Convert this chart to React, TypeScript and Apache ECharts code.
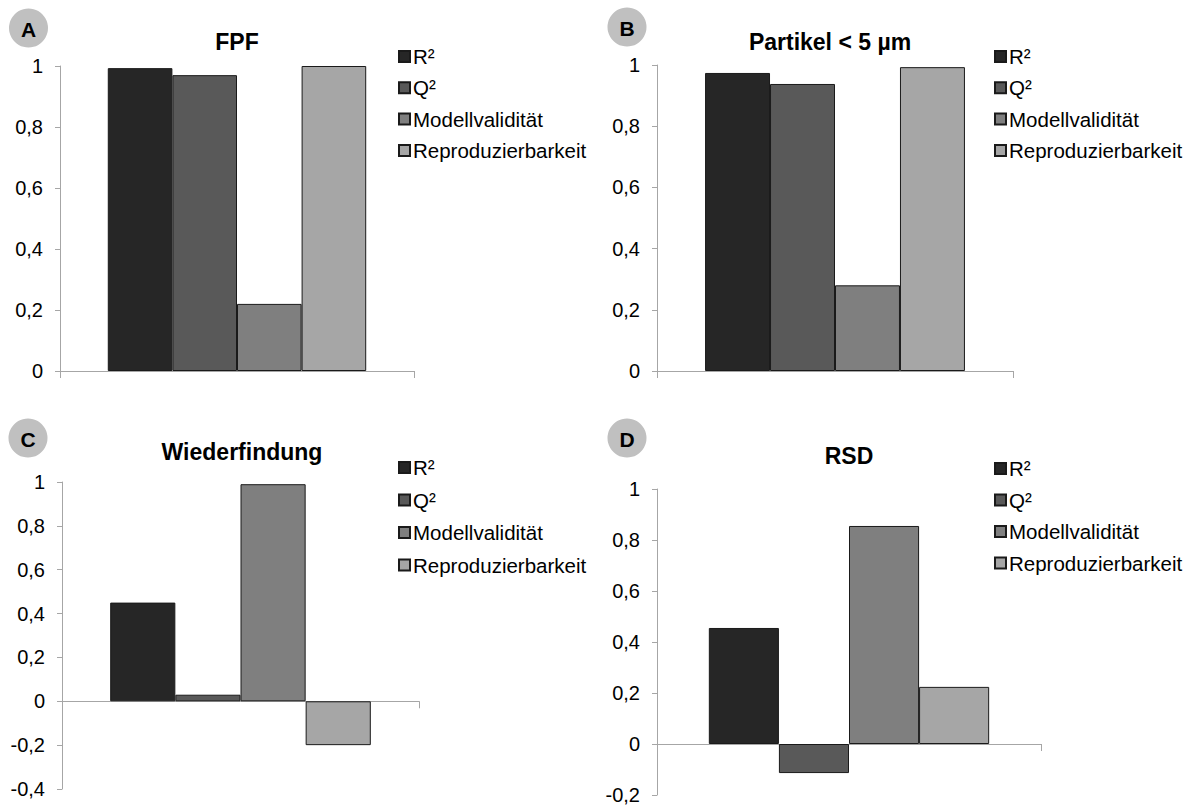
import React, { useEffect, useRef } from "react";
import * as echarts from "echarts";

const categories = [""];
const seriesNames = ["R²", "Q²", "Modellvalidität", "Reproduzierbarkeit"];
const colors = ["#262626", "#595959", "#7f7f7f", "#a6a6a6"];

const fpfValues = [0.993, 0.97, 0.22, 1.0];
const partikelValues = [0.974, 0.938, 0.28, 0.993];
const wiederfindungValues = [0.45, 0.03, 0.99, -0.2];
const rsdValues = [0.455, -0.114, 0.855, 0.224];

const panelTitles = ["FPF", "Partikel < 5 µm", "Wiederfindung", "RSD"];
const panelLetters = ["A", "B", "C", "D"];
const yMins = [0, 0, -0.4, -0.2];
const yMaxs = [1, 1, 1, 1];
const panelValues = [fpfValues, partikelValues, wiederfindungValues, rsdValues];

const layout = [
  { grid: { left: 60, top: 66, width: 354, height: 305 }, legend: { left: 398, top: 46, gap: 10.3 }, title: [237, 42], circle: [28.5, 28] },
  { grid: { left: 657, top: 65, width: 356, height: 306 }, legend: { left: 994, top: 46, gap: 10.3 }, title: [830, 42], circle: [627, 27] },
  { grid: { left: 62, top: 482, width: 357, height: 307 }, legend: { left: 398, top: 457, gap: 11.5 }, title: [242, 452], circle: [28, 438] },
  { grid: { left: 657, top: 489, width: 384, height: 306 }, legend: { left: 994, top: 458, gap: 10.5 }, title: [849, 456], circle: [627, 438] },
];

const FONT = "'Liberation Sans', Arial, sans-serif";
const AXIS_GREY = "#a6a6a6";

export default function App() {
  const ref = useRef<HTMLDivElement>(null);

  useEffect(() => {
    if (!ref.current) return;
    const chart = echarts.init(ref.current, undefined, { renderer: "svg" });

    const grids: any[] = [];
    const xAxes: any[] = [];
    const yAxes: any[] = [];
    const legends: any[] = [];
    const series: any[] = [];
    const graphics: any[] = [];

    layout.forEach((p, i) => {
      grids.push({ ...p.grid, containLabel: false });
      xAxes.push({
        type: "category",
        gridIndex: i,
        data: categories,
        axisLine: { show: true, onZero: true, lineStyle: { color: AXIS_GREY, width: 1 } },
        axisTick: { show: true, length: 7, lineStyle: { color: AXIS_GREY } },
        axisLabel: { show: false },
        splitLine: { show: false },
      });
      yAxes.push({
        type: "value",
        gridIndex: i,
        min: yMins[i],
        max: yMaxs[i],
        interval: 0.2,
        axisLine: { show: true, lineStyle: { color: AXIS_GREY, width: 1 } },
        axisTick: { show: true, length: 5, lineStyle: { color: AXIS_GREY } },
        splitLine: { show: false },
        axisLabel: {
          color: "#000",
          fontSize: 20,
          fontFamily: FONT,
          margin: 17,
          formatter: (v: number) => String(Math.round(v * 10) / 10).replace(".", ","),
        },
      });
      legends.push({
        orient: "vertical",
        left: p.legend.left,
        top: p.legend.top,
        padding: 0,
        itemGap: p.legend.gap,
        itemWidth: 11,
        itemHeight: 11,
        icon: "rect",
        selectedMode: false,
        data: seriesNames,
        textStyle: { color: "#000", fontSize: 20.5, fontFamily: FONT, lineHeight: 20, padding: [0, 0, 0, -2] },
      });
      seriesNames.forEach((name, k) => {
        series.push({
          type: "bar",
          name,
          xAxisIndex: i,
          yAxisIndex: i,
          data: [panelValues[i][k]],
          barGap: "0%",
          barCategoryGap: "27%",
          itemStyle: { color: colors[k], borderColor: "#1a1a1a", borderWidth: 1 },
        });
      });
      graphics.push({
        type: "text",
        x: p.title[0],
        y: p.title[1],
        style: {
          text: panelTitles[i],
          fill: "#000",
          font: `bold 23px ${FONT}`,
          textAlign: "center",
          textVerticalAlign: "middle",
        },
      });
      graphics.push({
        type: "circle",
        shape: { cx: p.circle[0], cy: p.circle[1], r: 19.5 },
        style: { fill: "#c0c0c0" },
      });
      graphics.push({
        type: "text",
        x: p.circle[0],
        y: p.circle[1] + 1,
        style: {
          text: panelLetters[i],
          fill: "#000",
          font: `bold 21px ${FONT}`,
          textAlign: "center",
          textVerticalAlign: "middle",
        },
      });
    });

    chart.setOption({
      animation: false,
      backgroundColor: "#fff",
      grid: grids,
      xAxis: xAxes,
      yAxis: yAxes,
      legend: legends,
      series,
      graphic: graphics,
    });

    return () => chart.dispose();
  }, []);

  return (
    <div
      ref={ref}
      style={{ position: "fixed", left: 0, top: 0, width: 1198, height: 805 }}
    />
  );
}
